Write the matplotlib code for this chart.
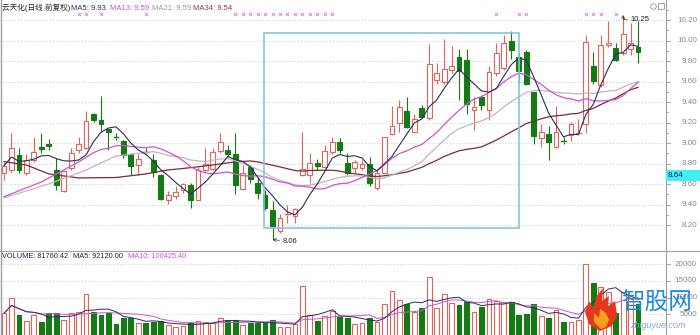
import numpy as np
import pandas as pd
import matplotlib
matplotlib.use('Agg')
import matplotlib.pyplot as plt
from matplotlib.patches import Rectangle, Polygon
from matplotlib.lines import Line2D
import matplotlib.transforms as mtrans

plt.rcParams['font.family'] = ['Liberation Sans', 'Noto Sans CJK SC', 'DejaVu Sans']

# ---------------- data ----------------
opens = [8.71, 8.74, 8.88, 8.71, 8.84, 8.96, 8.99, 8.74, 8.53, 8.76,
         8.93, 8.95, 9.28, 9.23, 9.14, 9.06, 9.02, 8.89, 8.79, 8.91,
         8.84, 8.69, 8.45, 8.48, 8.54, 8.59, 8.45, 8.74, 8.75, 8.92,
         8.93, 8.89, 8.55, 8.77, 8.61, 8.49, 8.35, 8.14, 8.30, 8.29,
         8.69, 8.69, 8.81, 8.77, 8.91, 9.01, 8.81, 8.76, 8.76, 8.80,
         8.56, 8.71, 9.09, 9.20, 9.31, 9.11, 9.34, 9.25, 9.62, 9.60,
         9.71, 9.84, 9.81, 9.32, 9.45, 9.32, 9.68, 9.73, 10.00, 9.84,
         9.89, 9.50, 9.05, 9.09, 8.96, 9.02, 9.08, 9.10, 9.19, 9.75,
         9.57, 9.96, 9.93, 9.88, 9.92, 9.94]
highs = [8.82, 9.10, 8.95, 8.89, 9.06, 9.10, 9.04, 8.86, 8.74, 8.95,
         9.06, 9.31, 9.29, 9.46, 9.15, 9.10, 9.03, 8.90, 8.89, 8.95,
         8.89, 8.70, 8.53, 8.58, 8.61, 8.61, 8.77, 8.95, 8.95, 9.10,
         8.98, 9.10, 8.79, 8.79, 8.67, 8.54, 8.44, 8.31, 8.40, 8.37,
         9.11, 8.90, 8.85, 8.98, 9.06, 9.05, 8.90, 8.84, 8.84, 8.87,
         8.74, 9.06, 9.36, 9.42, 9.45, 9.28, 9.37, 9.97, 9.78, 10.02,
         9.95, 9.92, 9.92, 9.45, 9.47, 9.75, 9.98, 10.06, 10.09, 9.89,
         9.91, 9.50, 9.19, 9.17, 9.36, 9.06, 9.21, 9.24, 10.06, 9.89,
         10.06, 10.19, 9.98, 10.25, 10.17, 10.19]
lows = [8.64, 8.72, 8.71, 8.69, 8.82, 8.90, 8.93, 8.54, 8.52, 8.74,
        8.90, 8.94, 9.21, 9.11, 8.93, 9.03, 8.86, 8.69, 8.69, 8.89,
        8.67, 8.45, 8.41, 8.46, 8.51, 8.37, 8.45, 8.72, 8.74, 8.90,
        8.87, 8.50, 8.54, 8.61, 8.46, 8.35, 8.06, 8.12, 8.22, 8.22,
        8.68, 8.61, 8.74, 8.76, 8.89, 8.90, 8.69, 8.71, 8.74, 8.58,
        8.54, 8.71, 9.08, 9.11, 9.15, 9.10, 9.25, 9.23, 9.58, 9.58,
        9.68, 9.42, 9.28, 9.13, 9.32, 9.23, 9.66, 9.71, 9.82, 9.58,
        9.57, 8.99, 8.96, 8.84, 8.95, 8.99, 9.02, 9.08, 9.10, 9.58,
        9.55, 9.94, 9.80, 9.86, 9.86, 9.78]
closes = [8.78, 8.95, 8.74, 8.84, 8.91, 8.94, 8.97, 8.59, 8.73, 8.90,
          8.99, 9.22, 9.23, 9.19, 9.11, 9.05, 8.88, 8.78, 8.85, 8.90,
          8.72, 8.46, 8.49, 8.52, 8.60, 8.45, 8.74, 8.80, 8.91, 9.01,
          8.89, 8.59, 8.71, 8.65, 8.51, 8.37, 8.19, 8.27, 8.31, 8.36,
          8.75, 8.81, 8.78, 8.92, 9.01, 8.93, 8.71, 8.82, 8.80, 8.61,
          8.71, 9.06, 9.17, 9.35, 9.16, 9.24, 9.26, 9.77, 9.68, 9.72,
          9.75, 9.70, 9.38, 9.35, 9.37, 9.69, 9.88, 9.98, 9.91, 9.70,
          9.58, 9.07, 9.11, 9.01, 9.11, 9.01, 9.19, 9.10, 9.99, 9.61,
          9.96, 9.98, 9.81, 10.07, 9.98, 9.89]
volumes = [5300, 10000, 4800, 3000, 4800, 2800, 5300, 5500, 3300, 5300,
           5800, 11000, 5800, 4800, 5300, 2000, 4000, 4000, 2300, 2300,
           2600, 3000, 1800, 1300, 1600, 2300, 3100, 2600, 2500, 4000,
           3300, 3300, 1800, 2300, 2500, 2500, 3300, 1300, 1300, 2000,
           13500, 4800, 3000, 4500, 6100, 4300, 4000, 2000, 2300, 3800,
           2800, 8000, 12000, 9300, 8200, 5800, 7000, 16300, 7000, 11100,
           8300, 7800, 8800, 5800, 7300, 9600, 9000, 8600, 8600, 4800,
           5000, 8000, 4500, 4000, 6300, 2800, 2800, 3300, 20000, 14300,
           13300, 11800, 5500, 11800, 10000, 8176]

ma13_early_idx = [0, 5, 10]
ma13_early_val = [8.478, 8.621, 8.817]
ma21_early_idx = [0, 6, 11, 15]
ma21_early_val = [8.467, 8.602, 8.738, 8.875]
ma34_early_idx = [0, 3, 6, 10, 15, 19, 22, 24, 27, 31]
ma34_early_val = [8.820, 8.787, 8.700, 8.661, 8.665, 8.700, 8.739, 8.753, 8.778, 8.817]

signal_idx = [10, 11, 13, 19] + list(range(31, 45)) + [66, 69, 70, 78, 79, 80, 82]

price_ticks = [10.2, 10.0, 9.8, 9.6, 9.4, 9.2, 9.0, 8.8, 8.6, 8.4, 8.2]
price_tick_labels = ['10.20', '10.00', '9.80', '9.60', '9.40', '9.20', '9.00',
                     '8.80', '8.60', '9.40', '8.20']
vol_ticks = [20000, 15000, 10000, 5000]
vol_tick_labels = ['20000', '15000', '10000', '5000']

high_idx, high_val = 83, 10.25
low_idx, low_val = 36, 8.06

title_parts = [('云天化(日线 前复权)', '#222222', 2),
               ('MA5: 9.93', '#2b2d5c', 71),
               ('MA13: 9.59', '#d14fd1', 110),
               ('MA21: 9.59', '#9a9a9a', 152),
               ('MA34: 9.54', '#8b3a3a', 193)]
vol_title_parts = [('VOLUME: 81760.42', '#222244', 2),
                   ('MA5: 92120.00', '#222244', 73),
                   ('MA10: 100425.40', '#d14fd1', 128)]

# ---------------- style ----------------
UP = '#e2625c'
DOWN = '#157a15'
C_MA5 = '#2b2d5c'
C_MA13 = '#cc55cc'
C_MA21 = '#c4b4c4'
C_MA34 = '#7b2a38'
GRID = '#c8c8c8'
W, H = 700, 335

n = len(closes)
idx = np.arange(n)
cl = pd.Series(closes)


def ma_series(period, early_idx, early_val):
    s = cl.rolling(period).mean()
    xs = list(early_idx) + list(range(period - 1, n))
    ys = list(early_val) + list(s.iloc[period - 1:])
    return xs, ys


ma5 = cl.rolling(5, min_periods=1).mean()
vs = pd.Series(volumes)
vma5 = vs.rolling(5, min_periods=1).mean()
vma10 = vs.rolling(10, min_periods=1).mean()

fig = plt.figure(figsize=(7, 3.35), dpi=100)


def fx(x):
    return x / W


def fy(y):
    return 1 - y / H


ax = fig.add_axes([0, fy(251), fx(666), 251 / H])
axv = fig.add_axes([0, 0, fx(666), 84 / H])

spacing = 7.46
x0 = -4 / spacing
x1 = x0 + 666 / spacing
for a in (ax, axv):
    a.set_xlim(x0, x1)
    a.axis('off')
ax.set_ylim(7.948, 10.397)
axv.set_ylim(-1198, 23952)

# grids
ax.hlines(price_ticks, x0, x1, colors=GRID, linestyles=(0, (1, 2)), lw=0.7, zorder=0)
axv.hlines(vol_ticks, x0, x1, colors=GRID, linestyles=(0, (1, 2)), lw=0.7, zorder=0)

# candles
bw = 0.64
for i in range(n):
    o, h, l, c = opens[i], highs[i], lows[i], closes[i]
    up = c >= o
    col = UP if up else DOWN
    top, bot = max(o, c), min(o, c)
    ax.plot([i, i], [top, h], color=col, lw=0.8, zorder=2, solid_capstyle='butt')
    ax.plot([i, i], [l, bot], color=col, lw=0.8, zorder=2, solid_capstyle='butt')
    if top - bot < 0.012:
        ax.plot([i - bw / 2, i + bw / 2], [top, top], color=col, lw=1.0, zorder=2)
    else:
        ax.add_patch(Rectangle((i - bw / 2, bot), bw, top - bot,
                               fc='white' if up else col, ec=col, lw=0.8, zorder=2))

# moving averages
xs, ys = ma_series(34, ma34_early_idx, ma34_early_val)
ax.plot(xs, ys, color=C_MA34, lw=0.9, zorder=3)
xs, ys = ma_series(21, ma21_early_idx, ma21_early_val)
ax.plot(xs, ys, color=C_MA21, lw=0.9, zorder=3)
xs, ys = ma_series(13, ma13_early_idx, ma13_early_val)
ax.plot(xs, ys, color=C_MA13, lw=0.9, zorder=3)
ax.plot(idx, ma5, color=C_MA5, lw=0.8, zorder=4)

# signal markers
ax.scatter(signal_idx, [10.26] * len(signal_idx), marker='x', s=5, lw=0.6,
           color='#e070e0', zorder=5)

# high / low annotations
ax.annotate(f'{high_val:.2f}', xy=(high_idx, high_val), xytext=(5, -3),
            textcoords='offset points', fontsize=5.5, color='#222222', va='center',
            arrowprops=dict(arrowstyle='->', lw=0.5, color='#333333',
                            shrinkA=0, shrinkB=0, connectionstyle='angle,angleA=0,angleB=90'))
ax.annotate(f'{low_val:.2f}', xy=(low_idx, low_val), xytext=(7, -1.5),
            textcoords='offset points', fontsize=5.5, color='#222222', va='center',
            arrowprops=dict(arrowstyle='->', lw=0.5, color='#333333', shrinkA=0, shrinkB=0))

# selection rectangle
ax.add_patch(Rectangle(((264 - 4) / spacing, 8.173), (519 - 264) / spacing, 10.075 - 8.173,
                       fill=False, ec='#86c5dc', lw=1.2, zorder=6))

# volume bars
for i in range(n):
    up = closes[i] >= opens[i]
    col = UP if up else DOWN
    axv.add_patch(Rectangle((i - bw / 2, -1198), bw, volumes[i] + 1198,
                            fc='white' if up else col, ec=col, lw=0.8, zorder=2))
axv.plot(idx, vma10, color=C_MA13, lw=0.7, zorder=3)
axv.plot(idx, vma5, color=C_MA5, lw=0.7, zorder=3)

# right axis labels
tr = mtrans.blended_transform_factory(ax.transAxes, ax.transData)
trv = mtrans.blended_transform_factory(axv.transAxes, axv.transData)
xl = 697 / 666
for v, s in zip(price_ticks, price_tick_labels):
    ax.text(xl, v, s, transform=tr, ha='right', va='center', fontsize=5.8,
            color='#8a8a8a', clip_on=False)
    ax.plot([1.0, 1.0 + 4 / 666], [v, v], transform=tr, color='#9a9a9a', lw=0.6, clip_on=False)
for v in np.arange(8.3, 10.35, 0.2):
    ax.plot([1.0, 1.0 + 2 / 666], [v, v], transform=tr, color='#9a9a9a', lw=0.6, clip_on=False)
for v, s in zip(vol_ticks, vol_tick_labels):
    axv.text(xl, v, s, transform=trv, ha='right', va='center', fontsize=5.8,
             color='#8a8a8a', clip_on=False)
    axv.plot([1.0, 1.0 + 4 / 666], [v, v], transform=trv, color='#9a9a9a', lw=0.6, clip_on=False)

# frame lines
fig.add_artist(Line2D([fx(666), fx(666)], [0, 1], color='#a0a0a0', lw=0.8))
fig.add_artist(Line2D([fx(0.5), fx(0.5)], [0, 1], color='#a0a0a0', lw=1.0))
fig.add_artist(Line2D([0, 1], [fy(251), fy(251)], color='#a0a0a0', lw=0.8))

# titles
for s, c, x in title_parts:
    fig.text(fx(x), fy(8), s, color=c, fontsize=5.5, ha='left', va='center')
for s, c, x in vol_title_parts:
    fig.text(fx(x), fy(256.5), s, color=c, fontsize=5.3, ha='left', va='center')

# cyan price tag
fig.add_artist(Rectangle((fx(666), fy(181)), fx(34), 11 / H, transform=fig.transFigure,
                         fc='#3ff0f0', ec='none', zorder=10))
fig.text(fx(668), fy(175.5), '8.64', fontsize=5.8, color='#1a1a60', ha='left',
         va='center', zorder=11)

# top-right icons
fig.add_artist(Line2D([fx(653)], [fy(6)], marker='o', ms=4, mfc='none', mec='#999999',
                      mew=0.6))
fig.add_artist(Rectangle((fx(658), fy(9)), fx(6), 6 / H, transform=fig.transFigure,
                         fill=False, ec='#999999', lw=0.6))

# watermark logo
flame_outer = [(600, 331), (589, 324), (585, 312), (589, 301), (594, 309), (596, 297),
               (603, 288), (602, 301), (609, 296), (608, 306), (615, 301), (617, 315),
               (612, 326)]
flame_inner = [(601, 329), (594, 322), (594, 313), (599, 318), (600, 309), (606, 313),
               (609, 320), (606, 327)]
fig.add_artist(Polygon([(fx(a), fy(b)) for a, b in flame_outer], closed=True,
                       transform=fig.transFigure, fc='#e8361e', ec='none', zorder=12))
fig.add_artist(Polygon([(fx(a), fy(b)) for a, b in flame_inner], closed=True,
                       transform=fig.transFigure, fc='#f9a11b', ec='none', zorder=13))
fig.text(fx(656), fy(303), '智股网', fontsize=17, color='#1f8ad6', ha='center',
         va='center', family=['Noto Sans CJK SC'], zorder=14)
fig.text(fx(658), fy(325), 'zhiguyue.com', fontsize=6.5, color='#8aa8c8', ha='center',
         va='center', style='italic', zorder=14)

fig.savefig('out.png', dpi=100)
